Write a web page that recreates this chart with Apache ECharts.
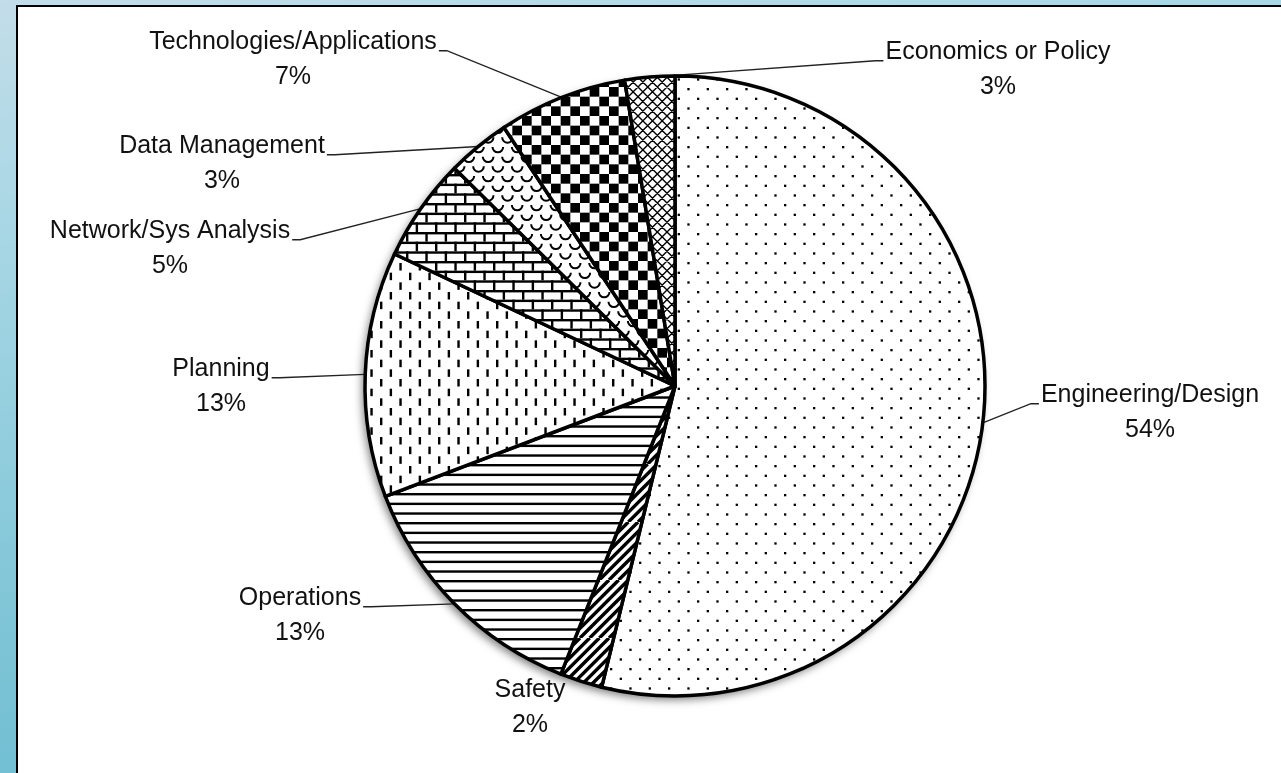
<!DOCTYPE html>
<html>
<head>
<meta charset="utf-8">
<script src="https://cdn.jsdelivr.net/npm/echarts@6/dist/echarts.min.js"></script>
<style>
  html, body { margin: 0; padding: 0; width: 1281px; height: 773px; overflow: hidden; }
  body { background: linear-gradient(170deg, #c3dde9 0%, #a6d6e4 25%, #7cc4d6 65%, #63b6cc 100%); position: relative; }
  #panel { position: absolute; left: 16px; top: 5px; width: 1300px; height: 800px; background: #fff;
           border-left: 2px solid #000; border-top: 2px solid #000; }
  #chart { position: absolute; left: 0; top: 0; width: 1281px; height: 773px; }
</style>
</head>
<body>
<div id="panel"></div>
<div id="chart"></div>
<script>
// ---- data ----
const categories = [
  'Engineering/Design', 'Safety', 'Operations', 'Planning',
  'Network/Sys Analysis', 'Data Management', 'Technologies/Applications', 'Economics or Policy'
];
const shares = [53.8, 2.2, 13.2, 12.8, 5.4, 3.3, 6.7, 2.6];

// ---- label layout (centre of each two-line label) ----
const labelCenters = [
  [1150, 413], [530, 708], [300, 616], [221, 387],
  [170, 249], [222, 164], [293, 60], [998, 70]
];
const showLeader = [true, false, true, true, true, true, true, true];
const FS = 25, LH = 35;

// ---- fill patterns ----
const T = 58, P = T / 3, Q = T / 6;
function tile(draw) {
  const c = document.createElement('canvas');
  c.width = T; c.height = T;
  const g = c.getContext('2d');
  g.fillStyle = '#fff'; g.fillRect(0, 0, T, T);
  g.fillStyle = '#000'; g.strokeStyle = '#000';
  draw(g);
  return c;
}
const patterns = [
  // dotted
  tile(g => { for (let i = 0; i < 3; i++) for (let j = 0; j < 3; j++) {
      g.fillRect(i * P + 1, j * P + 1, 2.3, 2.3);
      g.fillRect(i * P + Q + 1, j * P + Q + 1, 2.3, 2.3);
  } }),
  // wide upward diagonal
  tile(g => { g.lineWidth = 3.4; g.beginPath();
      for (let k = -7; k <= 7; k++) { g.moveTo(k * Q, T); g.lineTo(k * Q + T, 0); }
      g.stroke(); }),
  // horizontal lines
  tile(g => { for (let k = 0; k < 6; k++) g.fillRect(0, k * Q, T, 2.4); }),
  // vertical dashes
  tile(g => { for (let i = 0; i < 6; i++) for (let j = -1; j < 3; j++)
      g.fillRect(i * Q + 3, j * P + (i % 2) * Q + 2, 2.4, 7.5); }),
  // bricks
  tile(g => { for (let r = 0; r < 6; r++) {
      g.fillRect(0, r * Q, T, 2.4);
      for (let i = 0; i < 4; i++) g.fillRect((r % 2) * Q + i * P - (r % 2 ? P : 0), r * Q, 2.4, Q);
  } }),
  // shingle / scallops
  tile(g => { g.lineWidth = 2;
      for (let r = -1; r <= 6; r++) for (let i = -1; i <= 3; i++) {
        const cx = i * P + (((r % 2) + 2) % 2) * Q + Q / 2;
        g.beginPath(); g.arc(cx, r * Q + 2, Q * 0.55, 0, Math.PI); g.stroke();
      } }),
  // checkerboard
  tile(g => { for (let i = 0; i < 6; i++) for (let j = 0; j < 6; j++)
      if ((i + j) % 2 === 0) g.fillRect(i * Q, j * Q, Q, Q); }),
  // diamond lattice
  tile(g => { g.lineWidth = 1.4; g.beginPath();
      for (let k = -7; k <= 7; k++) {
        g.moveTo(k * Q, T); g.lineTo(k * Q + T, 0);
        g.moveTo(k * Q, 0); g.lineTo(k * Q + T, T);
      }
      g.stroke(); })
];

const total = shares.reduce((a, b) => a + b, 0);

const chart = echarts.init(document.getElementById('chart'), null, { renderer: 'canvas' });
const CENTER = [675, 386], R = 310;

chart.setOption({
  backgroundColor: 'transparent',
  animation: false,
  series: [
    {
      type: 'pie', z: 1, silent: true,
      center: CENTER, radius: R,
      label: { show: false }, labelLine: { show: false },
      itemStyle: { color: '#fff', shadowBlur: 9, shadowColor: 'rgba(0,0,0,0.5)', shadowOffsetX: -3, shadowOffsetY: 4 },
      emphasis: { disabled: true },
      data: [{ name: 'all', value: total }]
    },
    {
      type: 'pie', z: 2, silent: true,
      center: CENTER, radius: R,
      startAngle: 90, clockwise: true,
      avoidLabelOverlap: false,
      emphasis: { disabled: true },
      itemStyle: { borderColor: '#000', borderWidth: 3.5 },
      label: {
        show: true, position: 'outside', align: 'center',
        color: '#111', fontFamily: 'Liberation Sans, Arial, sans-serif',
        fontSize: FS, lineHeight: LH,
        formatter: p => p.name + '\n' + Math.round(p.value) + '%'
      },
      labelLine: { show: true, length: 10, length2: 10, lineStyle: { color: '#222', width: 1.3 } },
      labelLayout: function (p) {
        const i = p.dataIndex;
        const cx = labelCenters[i][0], cy = labelCenters[i][1];
        const w = p.labelRect.width, h = p.labelRect.height;
        const res = { x: cx, y: cy, align: 'center', verticalAlign: 'middle' };
        const pts = p.labelLinePoints;
        if (pts && showLeader[i]) {
          const anchor = pts[0];
          const toRight = anchor[0] > cx;
          const ax = toRight ? cx + w / 2 + 2 : cx - w / 2 - 2;
          const ay = cy - h / 2 + LH / 2 + FS * 0.33;
          res.labelLinePoints = [anchor, [ax + (toRight ? 8 : -8), ay], [ax, ay]];
        }
        return res;
      },
      data: categories.map((c, i) => ({
        name: c, value: shares[i],
        itemStyle: { color: { image: patterns[i], repeat: 'repeat' } },
        labelLine: { show: showLeader[i] }
      }))
    }
  ]
});
</script>
</body>
</html>
